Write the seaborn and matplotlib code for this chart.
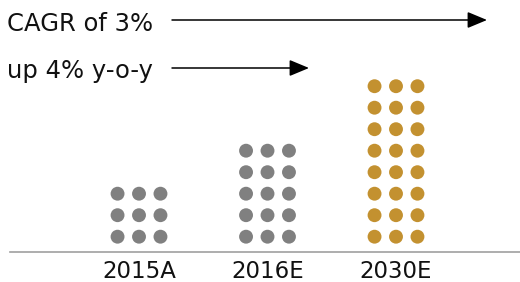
import pandas as pd
import numpy as np
import matplotlib
matplotlib.use("Agg")
import matplotlib.pyplot as plt
import seaborn as sb

# chart values
years = ["2015A", "2016E", "2030E"]
dot_counts = [9, 15, 24]
highlight = ["base", "base", "future"]
notes = ["CAGR of 3%", "up 4% y-o-y"]

COLS = 3
DX = 0.167  # horizontal gap between dots, in category units

# build one row per dot
rows = []
for i, (yr, n, h) in enumerate(zip(years, dot_counts, highlight)):
    for k in range(n):
        rows.append({"year": yr, "x": i + (k % COLS - 1) * DX, "row": k // COLS, "kind": h})
df = pd.DataFrame(rows)

sb.set_style("white")
plt.rcParams['font.family'] = ['DejaVu Sans']

fig = plt.figure(figsize=(5.2, 2.82), dpi=100)
ax = fig.add_axes([10 / 520, 30 / 282, 510 / 520, 252 / 282])

sb.scatterplot(data=df, x="x", y="row", hue="kind",
               palette={"base": "#808080", "future": "#C39130"},
               s=100, linewidth=0, legend=False, ax=ax)

ax.set_xlim(-1.004, 2.965)
ax.set_ylim(-0.712, 11.01)
ax.set_xticks(range(len(years)))
ax.set_xticklabels(years, fontsize=16.5, color="#111111")
ax.set_yticks([])
ax.set_xlabel("")
ax.set_ylabel("")
ax.tick_params(axis="x", length=0, pad=5.5)
for side in ["top", "right", "left"]:
    ax.spines[side].set_visible(False)
ax.spines["bottom"].set_color("#a0a0a0")
ax.spines["bottom"].set_linewidth(1.2)

# growth arrows with notes
arrow_ends = [487, 309]
text_y = [251, 204]
arrow_y = [262, 214]
for note, ty, ay, end in zip(notes, text_y, arrow_y, arrow_ends):
    fig.text(7 / 520, ty / 282, note, fontsize=17.5, color="#111111", va="baseline", ha="left")
    ax.annotate("", xy=(end, ay), xytext=(172, ay), xycoords="figure pixels",
                textcoords="figure pixels",
                arrowprops=dict(arrowstyle="-|>,head_length=0.6,head_width=0.25",
                                mutation_scale=20, color="black", lw=1.1,
                                shrinkA=0, shrinkB=0))

fig.savefig("out.png", dpi=100)
